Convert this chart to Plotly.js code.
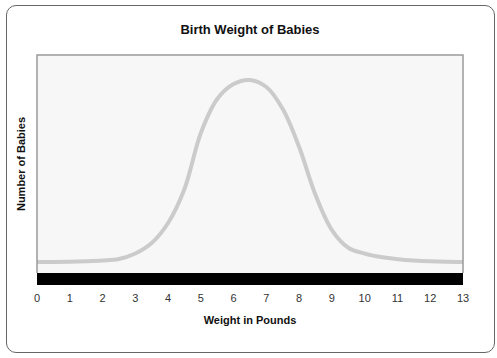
<!DOCTYPE html>
<html>
<head>
<meta charset="utf-8">
<script src="https://cdn.plot.ly/plotly-3.0.1.min.js"></script>
<style>
html,body{margin:0;padding:0;background:#fff;}
#wrap{position:relative;width:497px;height:358px;}
#chart{width:497px;height:358px;}
#frame{position:absolute;left:6px;top:5px;width:487px;height:346px;border:1px solid #666;border-radius:10px;pointer-events:none;}
</style>
</head>
<body>
<div id="wrap"><div id="chart"></div><div id="frame"></div></div>
<script>
// Weight in pounds
var weights = [0,0.5,1,1.5,2,2.5,3,3.5,4,4.5,5,5.5,6,6.5,7,7.5,8,8.5,9,9.5,10,10.5,11,11.5,12,12.5,13];
// Relative number of babies (unitless, axis not labelled)
var babies = [5.05,5.05,5.14,5.37,5.73,6.42,8.94,13.76,22.94,38.53,64.22,79.82,86.70,88.53,85.32,75.23,57.80,35.78,19.72,11.6,8.9,7.3,6.35,5.75,5.37,5.14,5.05];
var tickVals = [0,1,2,3,4,5,6,7,8,9,10,11,12,13];
var tickText = ["0","1","2","3","4","5","6","7","8","9","10","11","12","13"];

var font = "Liberation Sans, Arial, sans-serif";

Plotly.newPlot('chart', [{
  x: weights,
  y: babies,
  type: 'scatter',
  mode: 'lines',
  line: {color: '#cbcbcb', width: 4, shape: 'spline', smoothing: 1},
  hoverinfo: 'none'
}], {
  width: 497, height: 358,
  margin: {l: 37, r: 34, t: 55, b: 85},
  paper_bgcolor: '#ffffff',
  plot_bgcolor: '#f7f7f7',
  showlegend: false,
  title: {text: '<b>Birth Weight of Babies</b>', font: {family: font, size: 13, color: '#111'}, x: 0.503, xanchor: 'center', y: 0.919, yanchor: 'middle', yref: 'container'},
  xaxis: {
    range: [0, 13], tickvals: tickVals, ticktext: tickText,
    showgrid: false, zeroline: false,
    showline: true, linecolor: '#000', linewidth: 12,
    ticks: 'outside', ticklen: 4, tickcolor: 'rgba(0,0,0,0)',
    tickfont: {family: font, size: 11, color: '#333'},
    title: {text: '<b>Weight in Pounds</b>', font: {family: font, size: 11, color: '#111'}, standoff: 18}
  },
  yaxis: {
    range: [0, 100], showticklabels: false, ticks: '',
    showgrid: false, zeroline: false,
    showline: false,
    title: {text: '<b>Number of Babies</b>', font: {family: font, size: 11, color: '#111'}, standoff: 8}
  },
  shapes: [
    {type: 'path', xref: 'paper', yref: 'paper', path: 'M0,0 L0,1 L1,1 L1,0', line: {color: '#9a9a9a', width: 1.5}, layer: 'above'}
  ]
}, {staticPlot: true});
</script>
</body>
</html>
